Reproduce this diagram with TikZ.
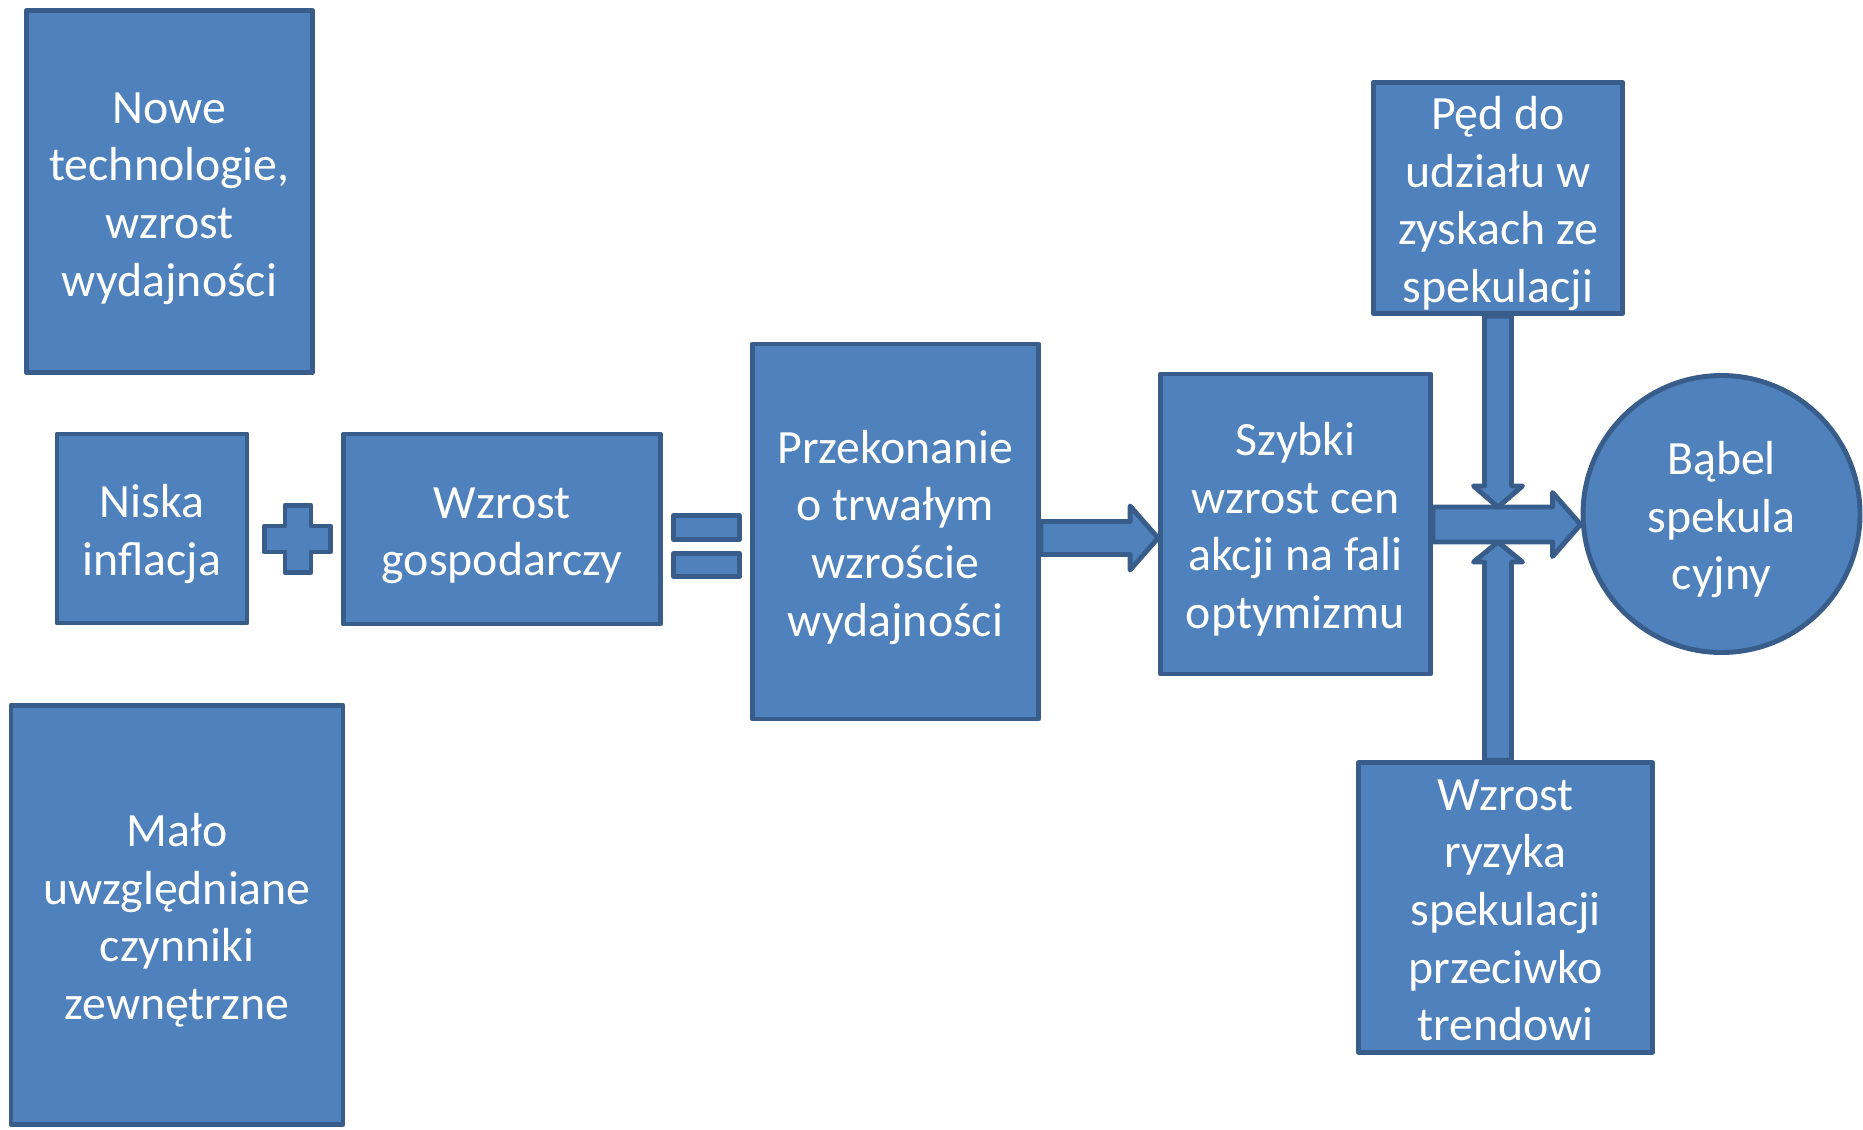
\documentclass[tikz,border=0pt]{standalone}
\usepackage{fontspec}
\setmainfont{Carlito}
\usetikzlibrary{calc}
\definecolor{boxfill}{HTML}{4F81BD}
\definecolor{boxline}{HTML}{385D8A}
\newcommand{\gora}{\rule{0pt}{13.5pt}}
\newcommand{\dol}{\rule[-3.2pt]{0pt}{3.2pt}}
\newcommand{\blokowa}[5]{%
  \coordinate (hb) at ($(#2)!#5!(#1)$);
  \draw[strzalka] ($(#1)!#3!90:(#2)$) -- ($(hb)!#3!90:(#2)$) -- ($(hb)!#4!90:(#2)$) -- (#2)
    -- ($(hb)!#4!-90:(#2)$) -- ($(hb)!#3!-90:(#2)$) -- ($(#1)!#3!-90:(#2)$) -- cycle;}
\begin{document}
\begin{tikzpicture}[x=1cm,y=-1cm,
    blok/.style={draw=boxline,fill=boxfill,line width=1.4pt,line join=round,text=white,align=center,
      inner sep=0pt,font=\fontsize{13.6}{16.4}\selectfont},
    strzalka/.style={draw=boxline,fill=boxfill,line width=1.4pt,line join=round}]
    \useasboundingbox (0,0) rectangle (18.63,11.29);
    \node[blok,minimum width=2.86cm,minimum height=3.62cm] (nowe) at (1.695,1.915) {\gora Nowe\\technologie,\\wzrost\\wydajności\dol};
    \node[blok,minimum width=1.90cm,minimum height=1.89cm] (niska) at (1.52,5.285) {\gora Niska\\inflacja\dol};
    \node[blok,minimum width=3.17cm,minimum height=1.90cm] (wzrost) at (5.02,5.29) {\gora Wzrost\\gospodarczy\dol};
    \node[blok,minimum width=2.86cm,minimum height=3.75cm] (przek) at (8.955,5.315) {\gora Przekonanie\\o trwałym\\wzroście\\wydajności\dol};
    \node[blok,minimum width=2.70cm,minimum height=3.00cm] (szyb) at (12.955,5.24) {\gora Szybki\\wzrost cen\\akcji na fali\\optymizmu\dol};
    \node[blok,minimum width=2.49cm,minimum height=2.18cm] (ped) at (14.98,1.98) {\gora Pęd do\\udziału w\\zyskach ze\\spekulacji\dol};
    \node[blok,minimum width=2.94cm,minimum height=2.78cm] (ryz) at (15.055,9.075) {\gora Wzrost\\ryzyka\\spekulacji\\przeciwko\\trendowi\dol};
    \node[blok,minimum width=3.32cm,minimum height=4.19cm] (malo) at (1.77,9.15) {\gora Mało\\uwzględniane\\czynniki\\zewnętrzne\dol};
    \node[blok,circle,minimum size=2.77cm] (babel) at (17.215,5.14) {\gora Bąbel\\spekula\\cyjny\dol};
    \draw[strzalka] (2.85,5.055) -- (3.11,5.055) -- (3.11,5.26) -- (3.305,5.26) -- (3.305,5.52) -- (3.11,5.52)
      -- (3.11,5.725) -- (2.85,5.725) -- (2.85,5.52) -- (2.645,5.52) -- (2.645,5.26) -- (2.85,5.26) -- cycle;
    \draw[strzalka] (6.735,5.155) rectangle (7.395,5.395);
    \draw[strzalka] (6.735,5.535) rectangle (7.395,5.765);
    \coordinate (a1) at ($(przek.east)+(0,0.065)$);
    \coordinate (a2) at (a1 -| szyb.west);
    \coordinate (b1) at ($(szyb.east)+(0,0.005)$);
    \coordinate (b2) at (b1 -| babel.west);
    \coordinate (c1) at (ped.south);
    \coordinate (c2) at ($(c1 |- b1)+(0,-0.175)$);
    \coordinate (d1) at (c1 |- ryz.north);
    \coordinate (d2) at ($(c1 |- b1)+(0,0.175)$);
    \blokowa{a1}{a2}{0.165cm}{0.32cm}{0.28cm}
    \blokowa{b1}{b2}{0.175cm}{0.32cm}{0.28cm}
    \blokowa{c1}{c2}{0.135cm}{0.245cm}{0.21cm}
    \blokowa{d1}{d2}{0.135cm}{0.245cm}{0.20cm}
\end{tikzpicture}
\end{document}
